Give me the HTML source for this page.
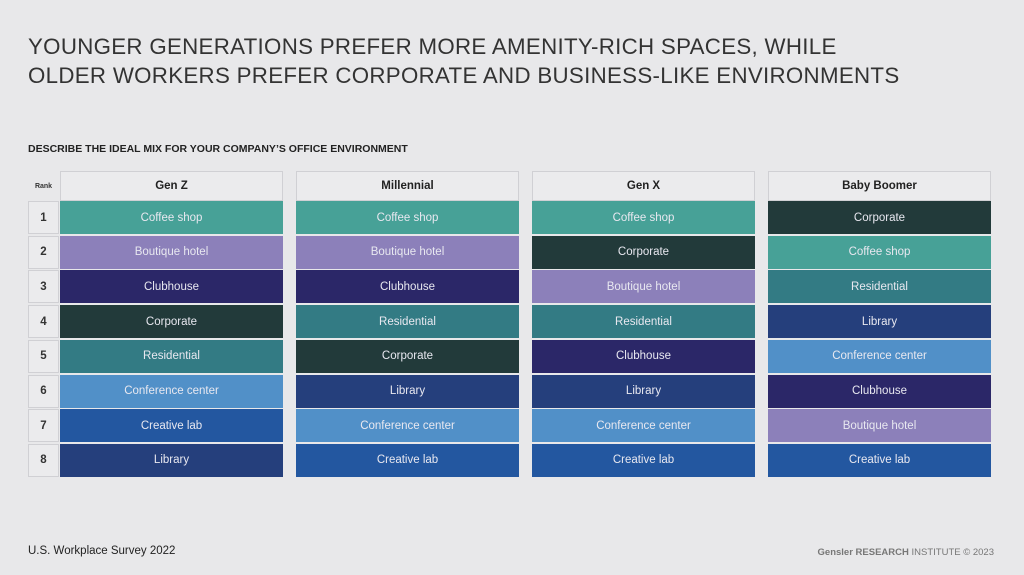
<!DOCTYPE html><html><head><style>
body{margin:0;width:1024px;height:575px;background:#e8e8ea;font-family:"Liberation Sans",sans-serif;position:relative;overflow:hidden}
.t{position:absolute;left:28px;top:32px;font-size:22.3px;color:#333;line-height:29px;letter-spacing:0.3px}
.s{position:absolute;left:28px;top:143px;font-size:10.5px;font-weight:bold;color:#222}
.c{position:absolute;box-sizing:border-box;display:flex;align-items:center;justify-content:center;font-size:11.5px}
.h{border:1px solid #d0d0d4;background:#ebebed;font-weight:bold;color:#222;font-size:11.5px}
.r{border:1px solid #d0d0d4;background:#ebebed;font-weight:bold;color:#333;font-size:11.5px}
.v{color:#e8e8f0}
.f1{position:absolute;left:28px;top:545px;font-size:11.5px;color:#222}
.f2{position:absolute;right:30px;top:547px;font-size:9.5px;color:#777}
</style></head><body>
<div class="t">YOUNGER GENERATIONS PREFER MORE AMENITY-RICH SPACES, WHILE<br>OLDER WORKERS PREFER CORPORATE AND BUSINESS-LIKE ENVIRONMENTS</div>
<div class="s">DESCRIBE THE IDEAL MIX FOR YOUR COMPANY’S OFFICE ENVIRONMENT</div>
<div id="g"></div>
<div class="f1">U.S. Workplace Survey 2022</div>
<div class="f2"><b>Gensler RESEARCH</b> INSTITUTE © 2023</div>
<script>
var C={"Coffee shop":"#47a197","Boutique hotel":"#8c80ba","Clubhouse":"#2b2768","Corporate":"#223a3a","Residential":"#337b84","Conference center":"#5190c8","Creative lab":"#2357a0","Library":"#253f7c"};
var cols=[["Gen Z",60,["Coffee shop","Boutique hotel","Clubhouse","Corporate","Residential","Conference center","Creative lab","Library"]],
["Millennial",296,["Coffee shop","Boutique hotel","Clubhouse","Residential","Corporate","Library","Conference center","Creative lab"]],
["Gen X",532,["Coffee shop","Corporate","Boutique hotel","Residential","Clubhouse","Library","Conference center","Creative lab"]],
["Baby Boomer",768,["Corporate","Coffee shop","Residential","Library","Conference center","Clubhouse","Boutique hotel","Creative lab"]]];
var h="";
h+='<div class="c" style="left:28px;top:171px;width:31px;height:30px;font-size:7px;font-weight:bold;color:#333">Rank</div>';
for(var i=0;i<8;i++){var y=201+i*34.7;h+='<div class="c r" style="left:28px;top:'+y+'px;width:31px;height:33px">'+(i+1)+'</div>';}
cols.forEach(function(c){h+='<div class="c h" style="left:'+c[1]+'px;top:171px;width:223px;height:30px">'+c[0]+'</div>';
c[2].forEach(function(n,i){var y=201+i*34.7;h+='<div class="c v" style="left:'+c[1]+'px;top:'+y+'px;width:223px;height:33px;background:'+C[n]+'">'+n+'</div>';});});
document.getElementById("g").innerHTML=h;
</script>
</body></html>
